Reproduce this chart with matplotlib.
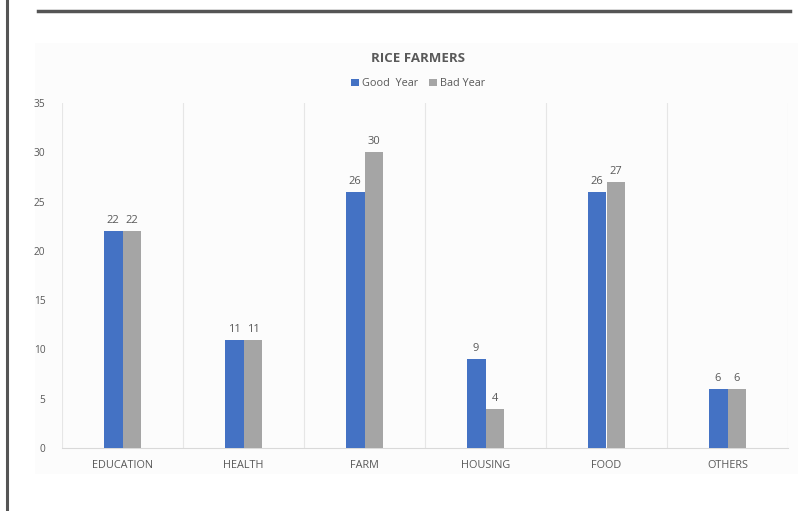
import matplotlib
matplotlib.use("Agg")
import matplotlib.pyplot as plt
import numpy as np
from matplotlib.lines import Line2D
from matplotlib.patches import Rectangle

categories = ["EDUCATION", "HEALTH", "FARM", "HOUSING", "FOOD", "OTHERS"]
good_year = [22, 11, 26, 9, 26, 6]
bad_year = [22, 11, 30, 4, 27, 6]
series_names = ["Good  Year", "Bad Year"]
y_ticks = [0, 5, 10, 15, 20, 25, 30, 35]

plt.rcParams['font.family'] = ['Open Sans', 'DejaVu Sans']
W, H = 805, 511
fig = plt.figure(figsize=(W/100, H/100), dpi=100)
fig.patch.set_facecolor("white")

# faint chart background
fig.add_artist(Rectangle((35/W, 1-474/H), (798-35)/W, (474-43)/H,
                         transform=fig.transFigure, facecolor="#fcfcfc",
                         edgecolor="none", zorder=0))
# frame lines
fig.add_artist(Line2D([7/W, 7/W], [0, 1], transform=fig.transFigure,
                      color="#555555", lw=2.2))
fig.add_artist(Line2D([38/W, 790/W], [1-11.5/H, 1-11.5/H], transform=fig.transFigure,
                      color="#555555", lw=2.5))

ax = fig.add_axes([62/W, 1-448/H, (788-62)/W, (448-103)/H])
ax.set_facecolor("none")
x = np.arange(len(categories))
bw = 0.157
blue = "#4472C4"
gray = "#A5A5A5"
b1 = ax.bar(x - bw/2, good_year, bw, color=blue, label=series_names[0], zorder=3)
b2 = ax.bar(x + bw/2, bad_year, bw, color=gray, label=series_names[1], zorder=3)
for bars in (b1, b2):
    for r in bars:
        ax.text(r.get_x() + r.get_width()/2, r.get_height() + 0.5, f"{int(r.get_height())}",
                ha="center", va="bottom", fontsize=8, color="#595959")

ax.set_xlim(-0.5, len(categories) - 0.5)
ax.set_ylim(0, 35)
ax.set_yticks(y_ticks)
ax.set_xticks(x)
ax.set_xticklabels(categories)
for b in np.arange(-0.5, len(categories), 1.0):
    ax.axvline(b, color="#e6e6e6", lw=0.8, zorder=1)
for s in ["top", "right", "left"]:
    ax.spines[s].set_visible(False)
ax.spines["bottom"].set_color("#d9d9d9")
ax.tick_params(axis="both", length=0, labelsize=7.3, colors="#595959")
ax.tick_params(axis="y", pad=12)
ax.tick_params(axis="x", pad=9, labelsize=7.8)

fig.text(418/W, 1-58/H, "RICE FARMERS", ha="center", va="center",
         fontsize=9.5, fontweight="bold", color="#595959")
leg = fig.legend(handles=[b1, b2], labels=series_names, loc="center",
                 bbox_to_anchor=(418/W, 1-84/H), ncol=2, frameon=False,
                 fontsize=7.8, handlelength=0.7, handleheight=0.7,
                 handletextpad=0.3, columnspacing=1.0)
for t in leg.get_texts():
    t.set_color("#595959")

fig.savefig("out.png", dpi=100)
